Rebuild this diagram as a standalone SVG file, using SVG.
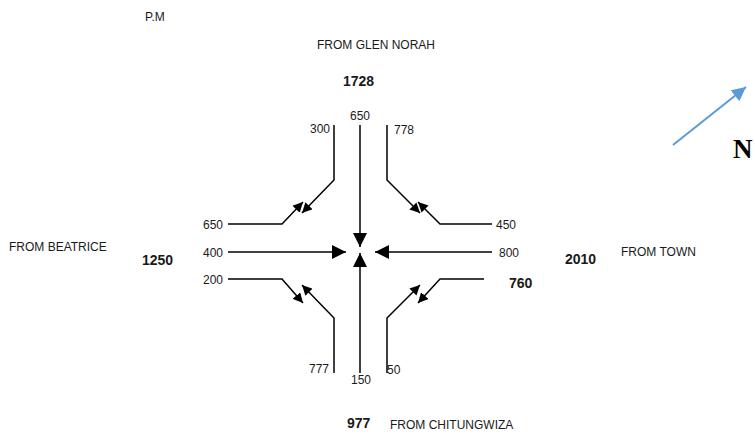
<svg xmlns="http://www.w3.org/2000/svg" width="755" height="439" viewBox="0 0 755 439">
<defs>
<marker id="ah" viewBox="0 0 10 10" refX="10" refY="5" markerWidth="10" markerHeight="10" markerUnits="userSpaceOnUse" orient="auto">
<path d="M0,0 L10,5 L0,10 z" fill="#000"/>
</marker>
<marker id="ahb" viewBox="0 0 10 10" refX="10" refY="5" markerWidth="14" markerHeight="14" markerUnits="userSpaceOnUse" orient="auto">
<path d="M0,0 L10,5 L0,10 z" fill="#000"/>
</marker>
<marker id="blue" viewBox="0 0 10 10" refX="10" refY="5" markerWidth="14" markerHeight="14" markerUnits="userSpaceOnUse" orient="auto">
<path d="M0,0 L10,5 L0,10 z" fill="#5b9bd5"/>
</marker>
</defs>
<style>
text{font-family:"Liberation Sans",Arial,sans-serif;fill:#1a1a1a}
.n{font-size:12px}
.b{font-size:14px;font-weight:bold}
.l{font-size:12px}
.c{fill:none;stroke:#000;stroke-width:1.5}
</style>
<rect width="755" height="439" fill="#fff"/>
<g id="labels">
<text class="l" x="145" y="21">P.M</text>
<text class="l" x="317" y="49">FROM GLEN NORAH</text>
<text class="b" x="343" y="86">1728</text>
<text class="l" x="9" y="251">FROM BEATRICE</text>
<text class="b" x="142" y="265">1250</text>
<text class="b" x="565" y="264">2010</text>
<text class="l" x="621" y="256">FROM TOWN</text>
<text class="b" x="347" y="428">977</text>
<text class="l" x="390" y="429">FROM CHITUNGWIZA</text>
<text class="b" x="509" y="288">760</text>
</g>
<g id="north">
<line x1="673" y1="145" x2="746" y2="87" stroke="#5b9bd5" stroke-width="2" marker-end="url(#blue)"/>
<text x="733" y="158" style="font-family:'Liberation Serif','Times New Roman',serif;font-size:27px;font-weight:bold;fill:#000">N</text>
</g>
<g id="numbers">
<text class="n" x="350" y="120">650</text>
<text class="n" x="310" y="133">300</text>
<text class="n" x="394" y="134">778</text>
<text class="n" x="203" y="229">650</text>
<text class="n" x="203" y="257">400</text>
<text class="n" x="203" y="284">200</text>
<text class="n" x="496" y="229">450</text>
<text class="n" x="499" y="257">800</text>
<text class="n" x="309" y="373">777</text>
<text class="n" x="351" y="384">150</text>
<text class="n" x="387" y="374">50</text>
</g>
<g id="connectors">
<line class="c" x1="360" y1="125" x2="360" y2="247" marker-end="url(#ahb)"/>
<line class="c" x1="360" y1="373" x2="360" y2="253" marker-end="url(#ahb)"/>
<line class="c" x1="228" y1="252" x2="346" y2="252" marker-end="url(#ahb)"/>
<line class="c" x1="492" y1="252" x2="375" y2="252" marker-end="url(#ahb)"/>
<polyline class="c" points="334,125 334,180 302,213" marker-end="url(#ah)"/>
<polyline class="c" points="228,224 282,224 303,202" marker-end="url(#ah)"/>
<polyline class="c" points="387,125 387,180 420,213" marker-end="url(#ah)"/>
<polyline class="c" points="492,224 440,224 418,202" marker-end="url(#ah)"/>
<polyline class="c" points="228,279 282,279 303,303" marker-end="url(#ah)"/>
<polyline class="c" points="334,373 334,318 302,285" marker-end="url(#ah)"/>
<polyline class="c" points="484,279 440,279 418,303" marker-end="url(#ah)"/>
<polyline class="c" points="387,373 387,318 420,285" marker-end="url(#ah)"/>
</g>
</svg>
